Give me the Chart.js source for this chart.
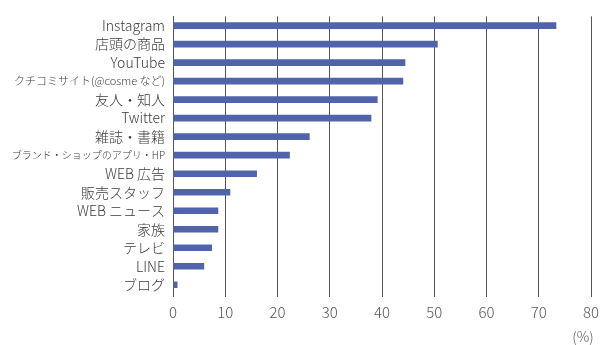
<!DOCTYPE html>
<html>
<head>
<meta charset="utf-8">
<script src="https://cdn.jsdelivr.net/npm/chart.js@4"></script>
<style>
  html, body { margin: 0; padding: 0; background: #fff; }
  #wrap { width: 600px; height: 345px; position: relative; }
</style>
</head>
<body>
<div id="wrap"><canvas id="chart"></canvas></div>
<script>
// ── Data ─────────────────────────────────────────────
const labels = [
  'Instagram', '店頭の商品', 'YouTube', 'クチコミサイト(@cosme など)', '友人・知人',
  'Twitter', '雑誌・書籍', 'ブランド・ショップのアプリ・HP', 'WEB 広告', '販売スタッフ',
  'WEB ニュース', '家族', 'テレビ', 'LINE', 'ブログ'
];
const values = [73.3, 50.6, 44.4, 44.0, 39.1, 37.9, 26.1, 22.3, 16.0, 10.9, 8.6, 8.6, 7.4, 5.9, 0.8];
const xTicks = [0, 10, 20, 30, 40, 50, 60, 70, 80];
const unitLabel = '(%)';

const FONT = "'Noto Sans CJK JP', 'Noto Sans', sans-serif";
const BAR = '#5163ab';
const GRID = '#555';

// "(%)" below the axis, right side
const unitPlugin = {
  id: 'unitLabel',
  afterDraw(chart) {
    const { ctx, scales } = chart;
    ctx.save();
    ctx.font = '300 14px ' + FONT;
    ctx.fillStyle = '#555';
    ctx.textAlign = 'center';
    ctx.textBaseline = 'middle';
    ctx.fillText(unitLabel, scales.x.right - 8, 337);
    ctx.restore();
  }
};

new Chart(document.getElementById('chart'), {
  type: 'bar',
  data: {
    labels: labels,
    datasets: [{
      data: values,
      backgroundColor: BAR,
      barThickness: 6,
    }]
  },
  options: {
    indexAxis: 'y',
    responsive: true,
    maintainAspectRatio: false,
    animation: false,
    layout: { padding: { top: 15, right: 9, bottom: 18, left: 0 } },
    plugins: {
      legend: { display: false },
      tooltip: { enabled: false },
    },
    scales: {
      x: {
        min: 0,
        max: 80,
        afterBuildTicks: (axis) => { axis.ticks = xTicks.map(v => ({ value: v })); },
        afterFit: (axis) => { axis.paddingLeft = 0; axis.paddingRight = 0; },
        grid: { color: GRID, lineWidth: 1, tickLength: 3 },
        border: { display: false },
        ticks: {
          color: '#555',
          padding: 6,
          maxRotation: 0,
          font: { family: FONT, size: 15, weight: 300 },
        },
      },
      y: {
        afterFit: (axis) => { axis.width = 173; },
        grid: { display: false, drawTicks: false },
        border: { display: true, color: GRID, width: 1 },
        ticks: {
          color: '#3a3a3a',
          padding: 8,
          autoSkip: false,
          font: (c) => {
            const s = c.index === 3 ? 11 : c.index === 7 ? 10 : 14;
            return { family: FONT, size: s, weight: 300 };
          },
        },
      },
    },
  },
  plugins: [unitPlugin],
});
</script>
</body>
</html>
